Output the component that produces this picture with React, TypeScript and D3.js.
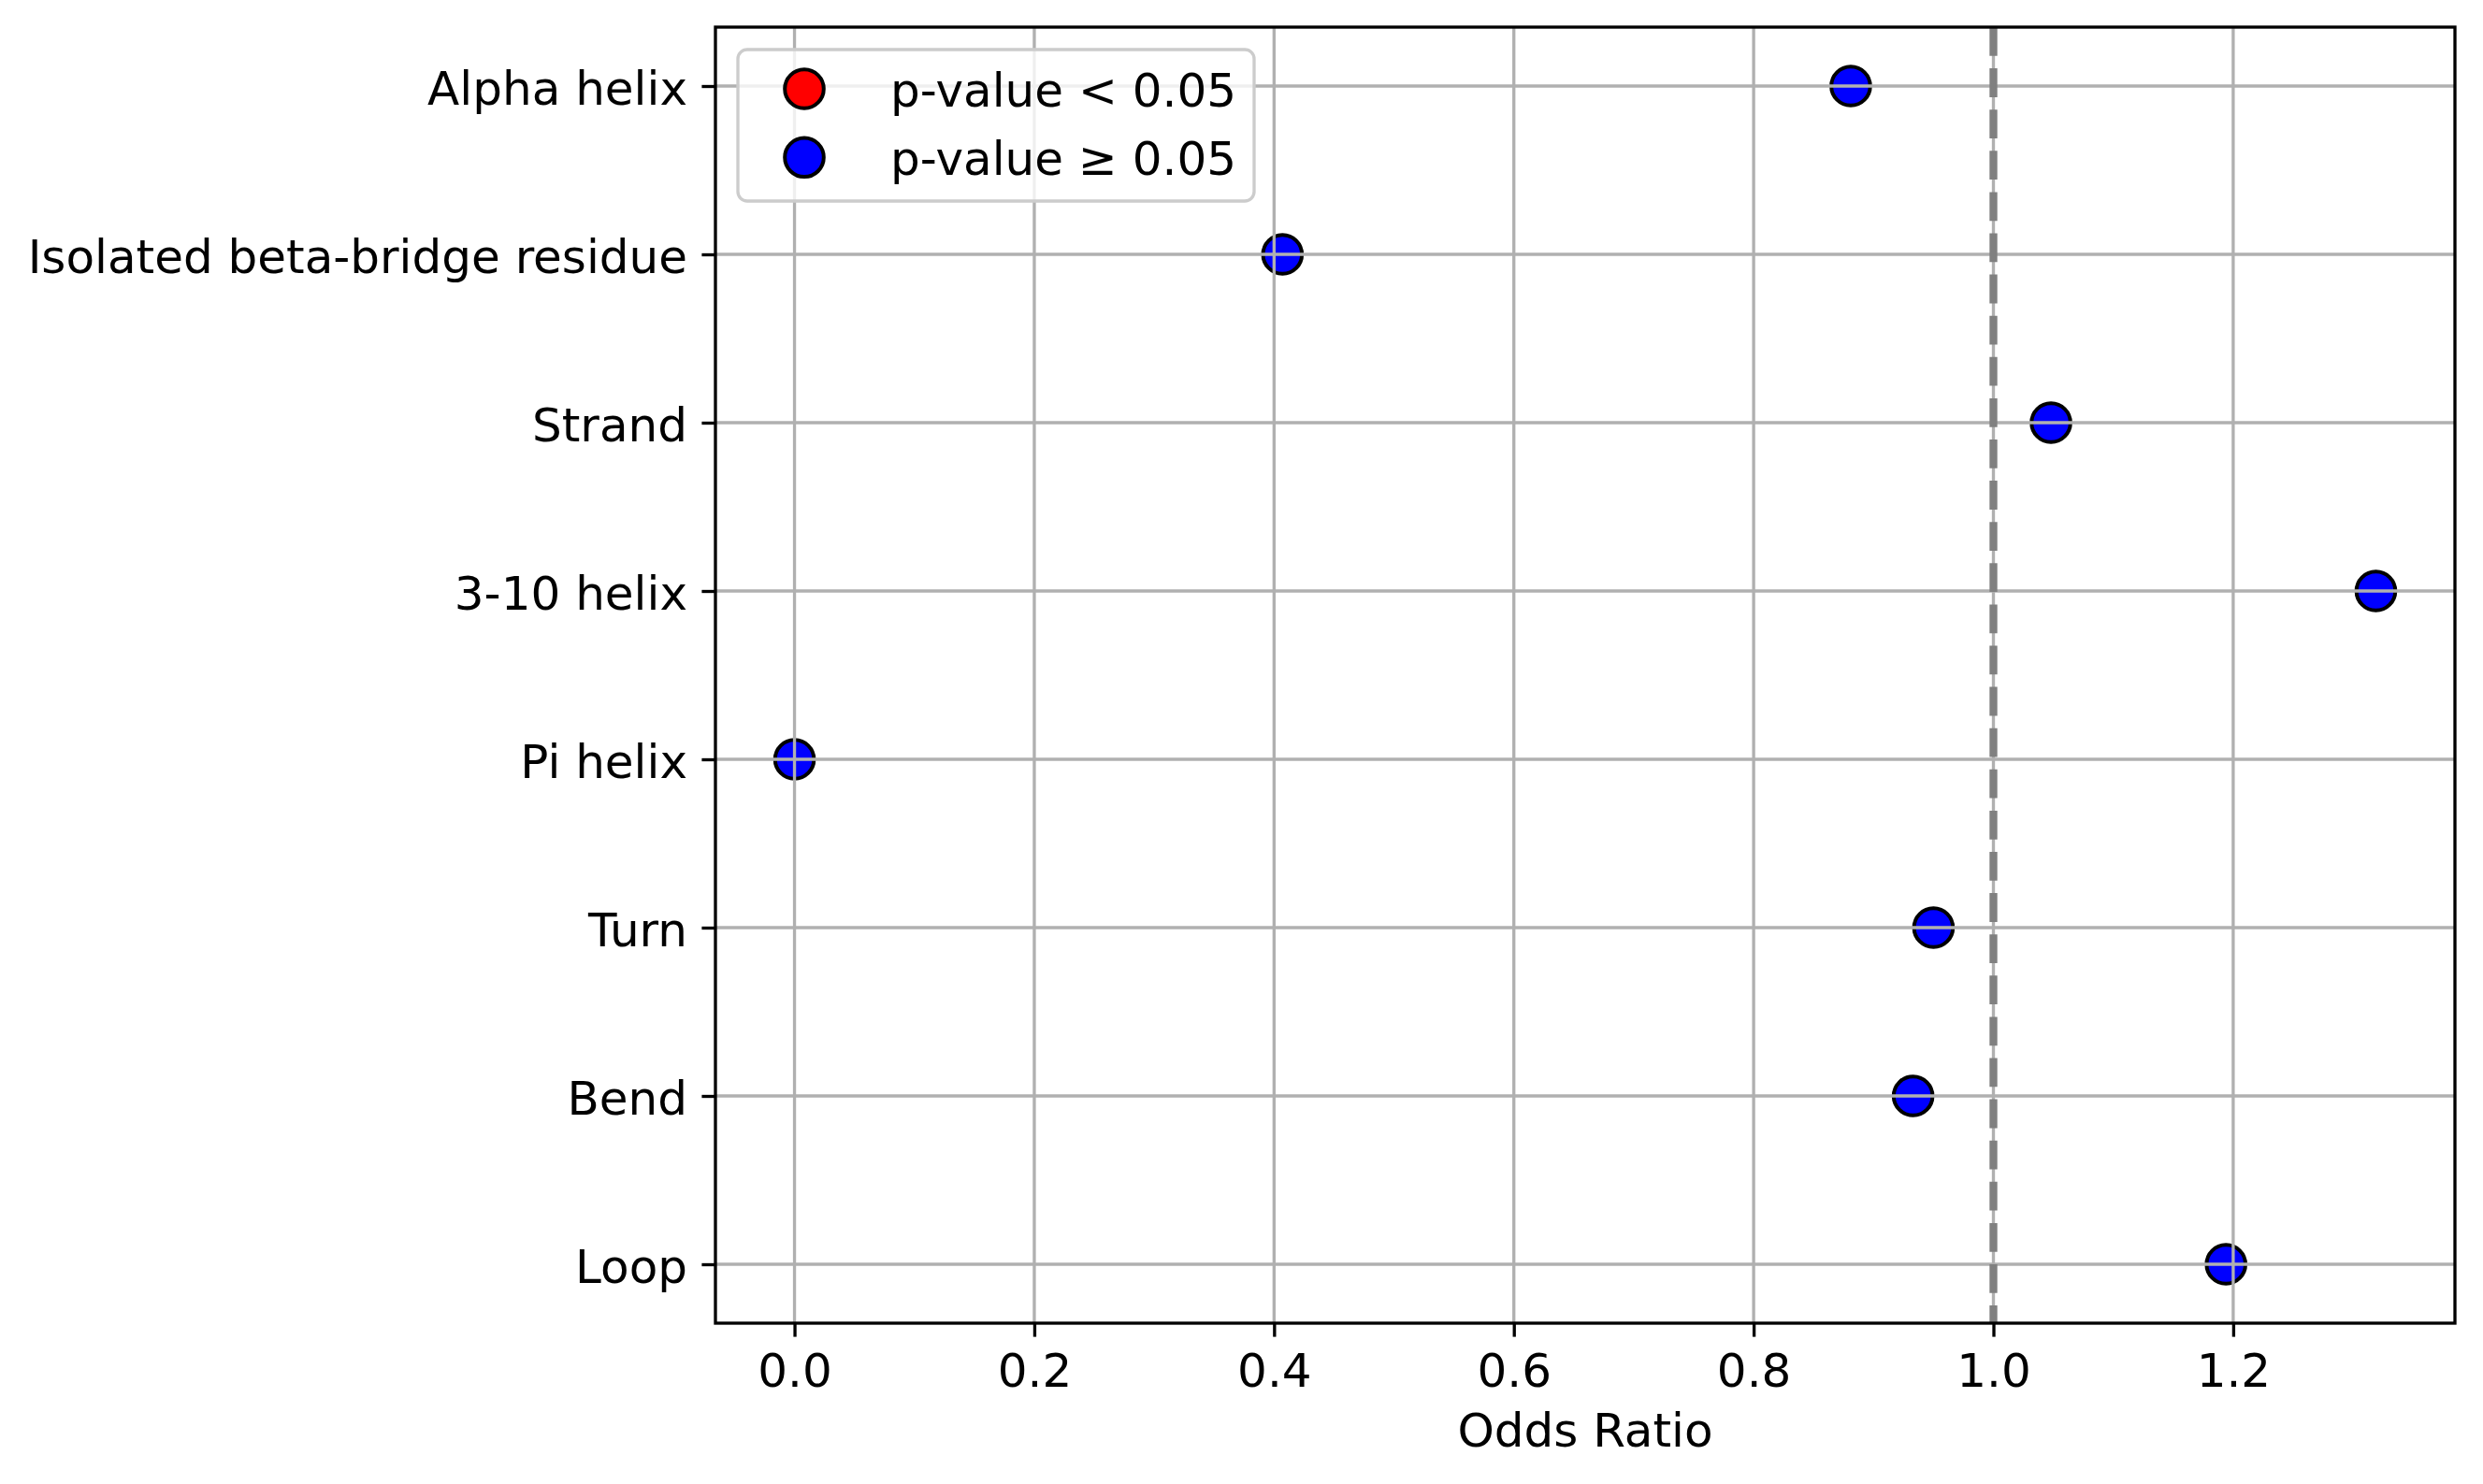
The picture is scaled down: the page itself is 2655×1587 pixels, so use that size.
import { useEffect, useRef } from "react";
import * as d3 from "d3";

// secondary structure categories, top to bottom
const categories = [
  "Alpha helix",
  "Isolated beta-bridge residue",
  "Strand",
  "3-10 helix",
  "Pi helix",
  "Turn",
  "Bend",
  "Loop",
];
const oddsRatios = [0.881, 0.407, 1.048, 1.319, 0.0, 0.95, 0.933, 1.194];
// true when p-value < 0.05
const significant = [false, false, false, false, false, false, false, false];

const xTicks = [0, 0.2, 0.4, 0.6, 0.8, 1.0, 1.2];
const legendLabels = ["p-value < 0.05", "p-value \u2265 0.05"];
const legendColors = ["#ff0000", "#0000ff"];
const refLine = 1.0;

type Row = { name: string; value: number; sig: boolean; idx: number };

export default function App() {
  const svgRef = useRef<SVGSVGElement | null>(null);

  useEffect(() => {
    const width = 2655;
    const height = 1587;
    const margin = { top: 29, right: width - 2625, bottom: height - 1415, left: 765 };
    const font = "'DejaVu Sans', sans-serif";
    const fs = 50;
    const lw = 3.33;

    const svg = d3.select(svgRef.current);
    svg.selectAll("*").remove();
    svg.attr("width", width).attr("height", height).attr("viewBox", `0 0 ${width} ${height}`);

    const rows: Row[] = categories.map((name, i) => ({
      name,
      value: oddsRatios[i],
      sig: significant[i],
      idx: i,
    }));

    // matplotlib-like 5% margins
    const xmin = d3.min(oddsRatios)!;
    const xmax = d3.max(oddsRatios)!;
    const pad = (xmax - xmin) * 0.05;
    const x = d3.scaleLinear()
      .domain([xmin - pad, xmax + pad])
      .range([margin.left, width - margin.right]);

    const n = categories.length;
    const ypad = (n - 1) * 0.05;
    const y = d3.scaleLinear()
      .domain([-ypad, n - 1 + ypad])
      .range([margin.top, height - margin.bottom]);

    svg.append("rect")
      .attr("width", width)
      .attr("height", height)
      .attr("fill", "#ffffff");

    // points (drawn below the grid, like matplotlib)
    svg.append("g")
      .selectAll("circle")
      .data(rows)
      .enter()
      .append("circle")
      .attr("cx", (d) => x(d.value))
      .attr("cy", (d) => y(d.idx))
      .attr("r", 20.8)
      .attr("fill", (d) => (d.sig ? legendColors[0] : legendColors[1]))
      .attr("stroke", "#000000")
      .attr("stroke-width", 4);

    // grid
    const grid = svg.append("g").attr("stroke", "#b0b0b0").attr("stroke-width", lw);
    grid.selectAll("line.gx")
      .data(xTicks)
      .enter()
      .append("line")
      .attr("class", "gx")
      .attr("x1", (d) => x(d))
      .attr("x2", (d) => x(d))
      .attr("y1", margin.top)
      .attr("y2", height - margin.bottom);
    grid.selectAll("line.gy")
      .data(rows)
      .enter()
      .append("line")
      .attr("class", "gy")
      .attr("x1", margin.left)
      .attr("x2", width - margin.right)
      .attr("y1", (d) => y(d.idx))
      .attr("y2", (d) => y(d.idx));

    // reference line at OR = 1
    svg.append("line")
      .attr("x1", x(refLine))
      .attr("x2", x(refLine))
      .attr("y1", margin.top)
      .attr("y2", height - margin.bottom)
      .attr("stroke", "#808080")
      .attr("stroke-width", 8.33)
      .attr("stroke-dasharray", "30.8 13.3");

    // x axis
    const xAxis = svg.append("g")
      .attr("transform", `translate(0,${height - margin.bottom})`)
      .call(
        d3.axisBottom(x)
          .tickValues(xTicks)
          .tickFormat(d3.format(".1f"))
          .tickSize(14.6)
          .tickPadding(18)
      );
    xAxis.select(".domain").remove();
    xAxis.selectAll("line").attr("stroke", "#000").attr("stroke-width", lw);
    xAxis.selectAll("text")
      .attr("fill", "#000")
      .style("font-family", font)
      .style("font-size", `${fs}px`);

    // y axis
    const yAxis = svg.append("g")
      .attr("transform", `translate(${margin.left},0)`)
      .call(
        d3.axisLeft(y)
          .tickValues(d3.range(n))
          .tickFormat((d) => categories[d as number])
          .tickSize(14.6)
          .tickPadding(15.4)
      );
    yAxis.select(".domain").remove();
    yAxis.selectAll("line").attr("stroke", "#000").attr("stroke-width", lw);
    yAxis.selectAll("text")
      .attr("fill", "#000")
      .attr("dy", "0.38em")
      .style("font-family", font)
      .style("font-size", `${fs}px`);

    // spines
    svg.append("rect")
      .attr("x", margin.left)
      .attr("y", margin.top)
      .attr("width", width - margin.left - margin.right)
      .attr("height", height - margin.top - margin.bottom)
      .attr("fill", "none")
      .attr("stroke", "#000")
      .attr("stroke-width", lw);

    // x label
    svg.append("text")
      .attr("x", (margin.left + width - margin.right) / 2)
      .attr("y", 1547)
      .attr("text-anchor", "middle")
      .style("font-family", font)
      .style("font-size", `${fs}px`)
      .text("Odds Ratio");

    // legend
    const legend = svg.append("g");
    legend.append("rect")
      .attr("x", 789)
      .attr("y", 53)
      .attr("width", 552)
      .attr("height", 162)
      .attr("rx", 10)
      .attr("fill", "#ffffff")
      .attr("fill-opacity", 0.8)
      .attr("stroke", "#cccccc")
      .attr("stroke-width", lw);
    const items = legend.selectAll("g.item")
      .data(legendLabels)
      .enter()
      .append("g")
      .attr("class", "item")
      .attr("transform", (_, i) => `translate(0,${95 + i * 73.3})`);
    items.append("circle")
      .attr("cx", 860)
      .attr("cy", 0)
      .attr("r", 20.8)
      .attr("fill", (_, i) => legendColors[i])
      .attr("stroke", "#000")
      .attr("stroke-width", 4);
    items.append("text")
      .attr("x", 952)
      .attr("y", 0)
      .attr("dy", "0.37em")
      .style("font-family", font)
      .style("font-size", `${fs}px`)
      .text((d) => d);
  }, []);

  return (
    <svg
      ref={svgRef}
      style={{ position: "absolute", left: 0, top: 0, display: "block" }}
    />
  );
}
